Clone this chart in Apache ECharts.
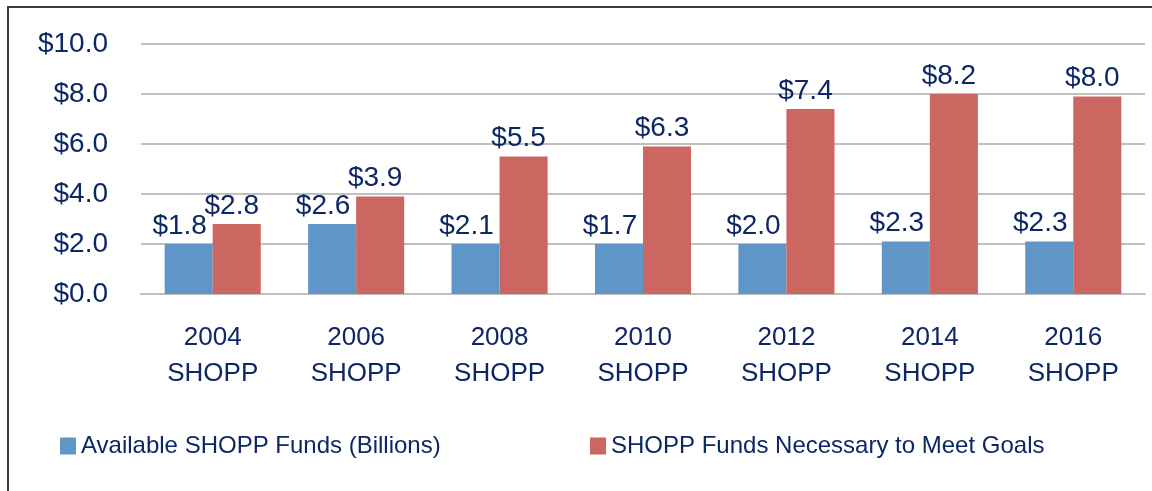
<!DOCTYPE html>
<html>
<head>
<meta charset="utf-8">
<script src="https://cdn.jsdelivr.net/npm/echarts@6/dist/echarts.min.js"></script>
<style>
  html, body { margin: 0; padding: 0; background: #fff; overflow: hidden; }
  #main { position: absolute; left: 0; top: 0; width: 1152px; height: 491px; }
  #frame {
    position: absolute; left: 7px; top: 6px; width: 1200px; height: 600px;
    border-top: 2px solid #3a3a3a; border-left: 2px solid #3a3a3a;
    pointer-events: none;
  }
</style>
</head>
<body>
<div id="main"></div>
<div id="frame"></div>
<script>
// categories (two-line labels)
var categories = ["2004\nSHOPP", "2006\nSHOPP", "2008\nSHOPP", "2010\nSHOPP", "2012\nSHOPP", "2014\nSHOPP", "2016\nSHOPP"];

// bar heights as drawn (billions)
var availableBars = [2.0, 2.8, 2.0, 2.0, 2.0, 2.1, 2.1];
var necessaryBars = [2.8, 3.9, 5.5, 5.9, 7.4, 8.0, 7.9];

// value labels printed above the bars
var availableLabels = [1.8, 2.6, 2.1, 1.7, 2.0, 2.3, 2.3];
var necessaryLabels = [2.8, 3.9, 5.5, 6.3, 7.4, 8.2, 8.0];

var yTicks = [0, 2, 4, 6, 8, 10];

var navy = "#0c2766";
var font = "Liberation Sans, Arial, sans-serif";

var myChart = echarts.init(document.getElementById("main"));

myChart.setOption({
  animation: false,
  textStyle: { fontFamily: font },
  grid: { left: 141, right: 7, top: 44, bottom: 197 },
  legend: [
    {
      data: ["Available SHOPP Funds (Billions)"],
      left: 55,
      top: 429,
      icon: "rect",
      itemWidth: 16,
      itemHeight: 17,
      textStyle: { color: navy, fontSize: 24, fontFamily: font }
    },
    {
      data: ["SHOPP Funds Necessary to Meet Goals"],
      left: 585,
      top: 429,
      icon: "rect",
      itemWidth: 16,
      itemHeight: 17,
      textStyle: { color: navy, fontSize: 24, fontFamily: font }
    }
  ],
  xAxis: {
    type: "category",
    data: categories,
    axisLine: { show: true, lineStyle: { color: "#c0c0c0", width: 2 } },
    axisTick: { show: false },
    axisLabel: {
      color: navy,
      fontSize: 26,
      lineHeight: 36,
      margin: 26,
      fontFamily: font
    }
  },
  yAxis: {
    type: "value",
    min: yTicks[0],
    max: yTicks[yTicks.length - 1],
    interval: 2,
    axisLine: { show: false },
    axisTick: { show: false },
    splitLine: { lineStyle: { color: "#c0c0c0", width: 2 } },
    axisLabel: {
      color: navy,
      fontSize: 28,
      margin: 33,
      fontFamily: font,
      formatter: function (v) { return "$" + v.toFixed(1); }
    }
  },
  series: [
    {
      name: "Available SHOPP Funds (Billions)",
      type: "bar",
      data: availableBars,
      barGap: "0%",
      barCategoryGap: "33%",
      itemStyle: { color: "#5f95c7" },
      label: {
        show: true,
        position: "top",
        distance: 4,
        offset: [-9, 0],
        color: navy,
        fontSize: 28,
        fontFamily: font,
        formatter: function (p) { return "$" + availableLabels[p.dataIndex].toFixed(1); }
      }
    },
    {
      name: "SHOPP Funds Necessary to Meet Goals",
      type: "bar",
      data: necessaryBars,
      barGap: "0%",
      barCategoryGap: "33%",
      itemStyle: { color: "#cc6660" },
      label: {
        show: true,
        position: "top",
        distance: 4,
        offset: [-5, 0],
        color: navy,
        fontSize: 28,
        fontFamily: font,
        formatter: function (p) { return "$" + necessaryLabels[p.dataIndex].toFixed(1); }
      }
    }
  ]
});
</script>
</body>
</html>
